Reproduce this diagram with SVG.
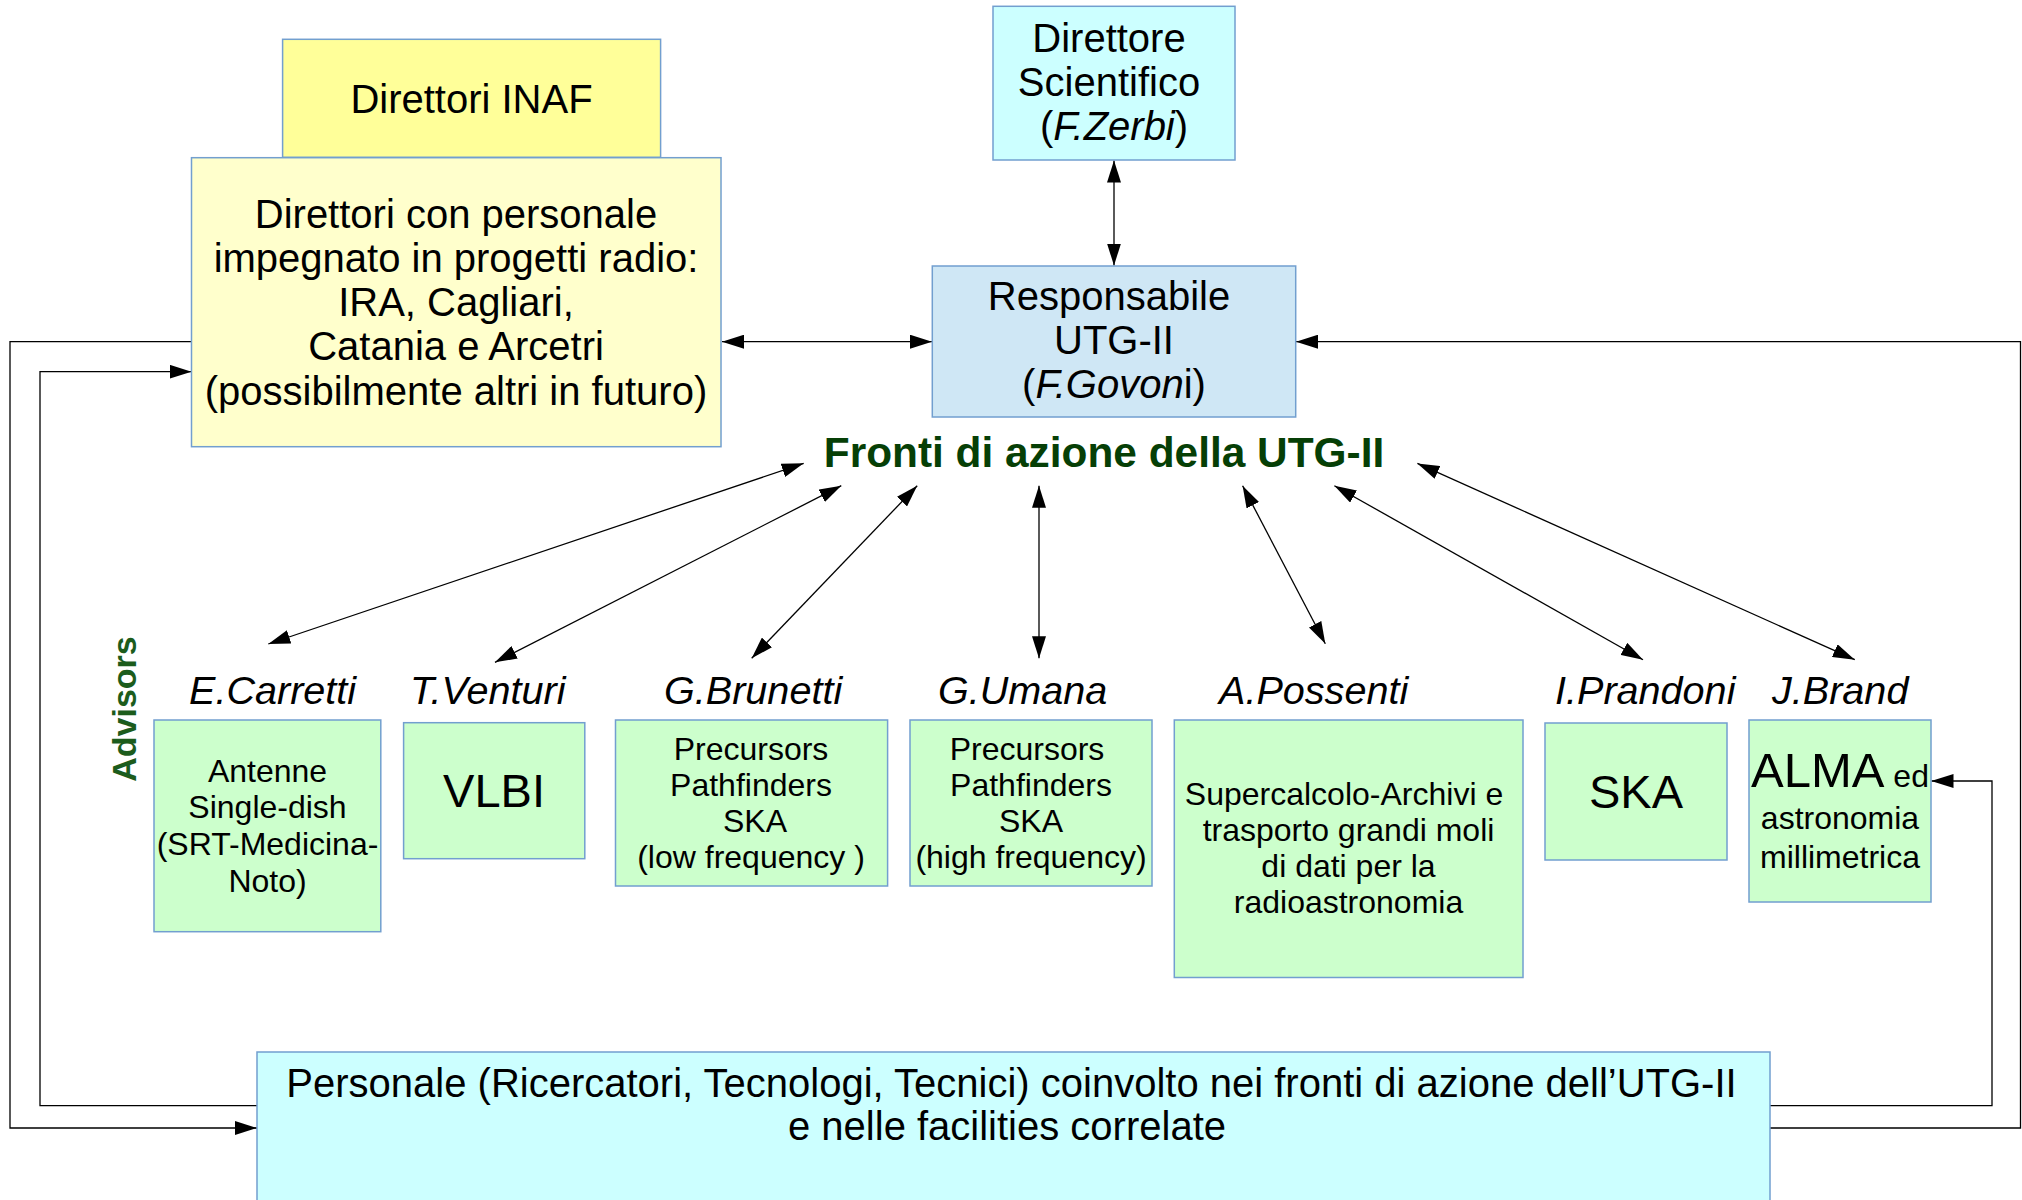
<svg xmlns="http://www.w3.org/2000/svg" width="2022" height="1200" viewBox="0 0 2022 1200">
<defs>
<marker id="ah" markerUnits="userSpaceOnUse" markerWidth="22" markerHeight="14" refX="22" refY="7" orient="auto-start-reverse" viewBox="0 0 22 14">
<path d="M0,0 L22,7 L0,14 z" fill="#000"/>
</marker>
<style>
.box{stroke:#729fcf;stroke-width:1.5}
.t{font-family:"Liberation Sans",Arial,sans-serif;fill:#000;text-anchor:middle}
.f40{font-size:40px}
.f31{font-size:32px}
.f47{font-size:47px}
.f49{font-size:49px}
.name{font-family:"Liberation Sans",Arial,sans-serif;font-size:39.6px;font-style:italic;fill:#000}
.it{font-style:italic}
.ln{fill:none;stroke:#000;stroke-width:1.3}
.dbl{marker-start:url(#ah);marker-end:url(#ah)}
.end{marker-end:url(#ah)}
.yellow2{fill:#ffffcc}
.green{fill:#ccffcc}
</style>
</defs>
<rect width="2022" height="1200" fill="#fff"/>

<g id="connectors">
<line class="ln dbl" x1="1114" y1="160.5" x2="1114" y2="265.5"/>
<line class="ln dbl" x1="722" y1="341.7" x2="932" y2="341.7"/>
<line class="ln dbl" x1="803.7" y1="463.3" x2="268.3" y2="644"/>
<line class="ln dbl" x1="841.3" y1="485.7" x2="495" y2="662.3"/>
<line class="ln dbl" x1="917.2" y1="485.7" x2="751.7" y2="658.3"/>
<line class="ln dbl" x1="1039" y1="485.7" x2="1039" y2="658.3"/>
<line class="ln dbl" x1="1242.6" y1="485.7" x2="1325.3" y2="643.7"/>
<line class="ln dbl" x1="1334.4" y1="485.7" x2="1643" y2="659.7"/>
<line class="ln dbl" x1="1417.4" y1="463.4" x2="1854.8" y2="659.7"/>
<polyline class="ln end" points="191.5,341.7 10,341.7 10,1128 257,1128"/>
<polyline class="ln end" points="257,1105.7 40,1105.7 40,371.7 191.5,371.7"/>
<polyline class="ln end" points="1770,1105.7 1992,1105.7 1992,781 1931.5,781"/>
<polyline class="ln end" points="1770,1128 2020.5,1128 2020.5,341.7 1296,341.7"/>
</g>

<g id="direttori-inaf">
<rect class="box" x="282.6" y="39.3" width="378" height="118" fill="#ffff99"/>
<text class="t f40" x="471.5" y="113.3">Direttori INAF</text>
</g>

<g id="direttori-personale">
<rect class="box yellow2" x="191.5" y="157.7" width="529.5" height="289"/>
<text class="t f40" x="456" y="227.5">Direttori con personale</text>
<text class="t f40" x="456" y="271.8">impegnato in progetti radio:</text>
<text class="t f40" x="456" y="316.1">IRA, Cagliari,</text>
<text class="t f40" x="456" y="360.4">Catania e Arcetri</text>
<text class="t f40" x="456" y="404.7">(possibilmente altri in futuro)</text>
</g>

<g id="direttore-scientifico">
<rect class="box" x="993" y="6.3" width="242" height="153.7" fill="#ccffff"/>
<text class="t f40" x="1109" y="51.7">Direttore</text>
<text class="t f40" x="1109" y="96">Scientifico</text>
<text class="t f40" x="1114" y="140">(<tspan class="it">F.Zerbi</tspan>)</text>
</g>

<g id="responsabile">
<rect class="box" x="932.3" y="266" width="363.4" height="151" fill="#cfe7f5"/>
<text class="t f40" x="1109" y="310">Responsabile</text>
<text class="t f40" x="1114" y="354.3">UTG-II</text>
<text class="t f40" x="1114" y="398.3">(<tspan class="it">F.Govon</tspan>i)</text>
</g>

<g id="fronti">
<text x="1104" y="466.7" font-family="Liberation Sans, Arial, sans-serif" font-size="42.4" font-weight="bold" fill="#063f06" text-anchor="middle">Fronti di azione della UTG-II</text>
</g>

<g id="advisors">
<text x="136" y="709" font-family="Liberation Sans, Arial, sans-serif" font-size="34" font-weight="bold" fill="#1c5c1c" text-anchor="middle" transform="rotate(-90 136 709)">Advisors</text>
</g>

<g id="names">
<text class="name" x="189" y="704">E.Carretti</text>
<text class="name" x="410" y="704">T.Venturi</text>
<text class="name" x="664" y="704">G.Brunetti</text>
<text class="name" x="938" y="704">G.Umana</text>
<text class="name" x="1219" y="704">A.Possenti</text>
<text class="name" x="1555" y="704">I.Prandoni</text>
<text class="name" x="1772" y="704">J.Brand</text>
</g>

<g id="antenne">
<rect class="box green" x="154" y="720" width="226.8" height="211.7"/>
<text class="t f31" x="267.5" y="781.7">Antenne</text>
<text class="t f31" x="267.5" y="818.3">Single-dish</text>
<text class="t f31" x="267.5" y="855">(SRT-Medicina-</text>
<text class="t f31" x="267.5" y="891.5">Noto)</text>
</g>

<g id="vlbi">
<rect class="box green" x="403.6" y="722.7" width="181.2" height="136"/>
<text class="t f47" x="494" y="806.7">VLBI</text>
</g>

<g id="ska-low">
<rect class="box green" x="615.5" y="720" width="272.1" height="166"/>
<text class="t f31" x="751" y="760">Precursors</text>
<text class="t f31" x="751" y="796">Pathfinders</text>
<text class="t f31" x="755" y="831.8">SKA</text>
<text class="t f31" x="751" y="867.7">(low frequency )</text>
</g>

<g id="ska-high">
<rect class="box green" x="910" y="720" width="242" height="166"/>
<text class="t f31" x="1027" y="760">Precursors</text>
<text class="t f31" x="1031" y="796">Pathfinders</text>
<text class="t f31" x="1031" y="831.8">SKA</text>
<text class="t f31" x="1031" y="867.7">(high frequency)</text>
</g>

<g id="supercalcolo">
<rect class="box green" x="1174.3" y="720" width="348.7" height="257.5"/>
<text class="t f31" x="1344" y="805">Supercalcolo-Archivi e</text>
<text class="t f31" x="1348.5" y="841">trasporto grandi moli</text>
<text class="t f31" x="1348.5" y="877">di dati per la</text>
<text class="t f31" x="1348.5" y="913">radioastronomia</text>
</g>

<g id="ska">
<rect class="box green" x="1545" y="723" width="182" height="137"/>
<text class="t f47" x="1636" y="807.5">SKA</text>
</g>

<g id="alma">
<rect class="box green" x="1749" y="720" width="182" height="182"/>
<text class="t" x="1840" y="786.8"><tspan class="f49">ALMA</tspan><tspan class="f31"> ed</tspan></text>
<text class="t f31" x="1840" y="829.3">astronomia</text>
<text class="t f31" x="1840" y="867.5">millimetrica</text>
</g>

<g id="personale">
<rect class="box" x="257" y="1052" width="1513" height="160" fill="#ccffff"/>
<text class="t f40" x="1011.5" y="1096.7">Personale (Ricercatori, Tecnologi, Tecnici) coinvolto nei fronti di azione dell’UTG-II</text>
<text class="t f40" x="1007" y="1140">e nelle facilities correlate</text>
</g>
</svg>
